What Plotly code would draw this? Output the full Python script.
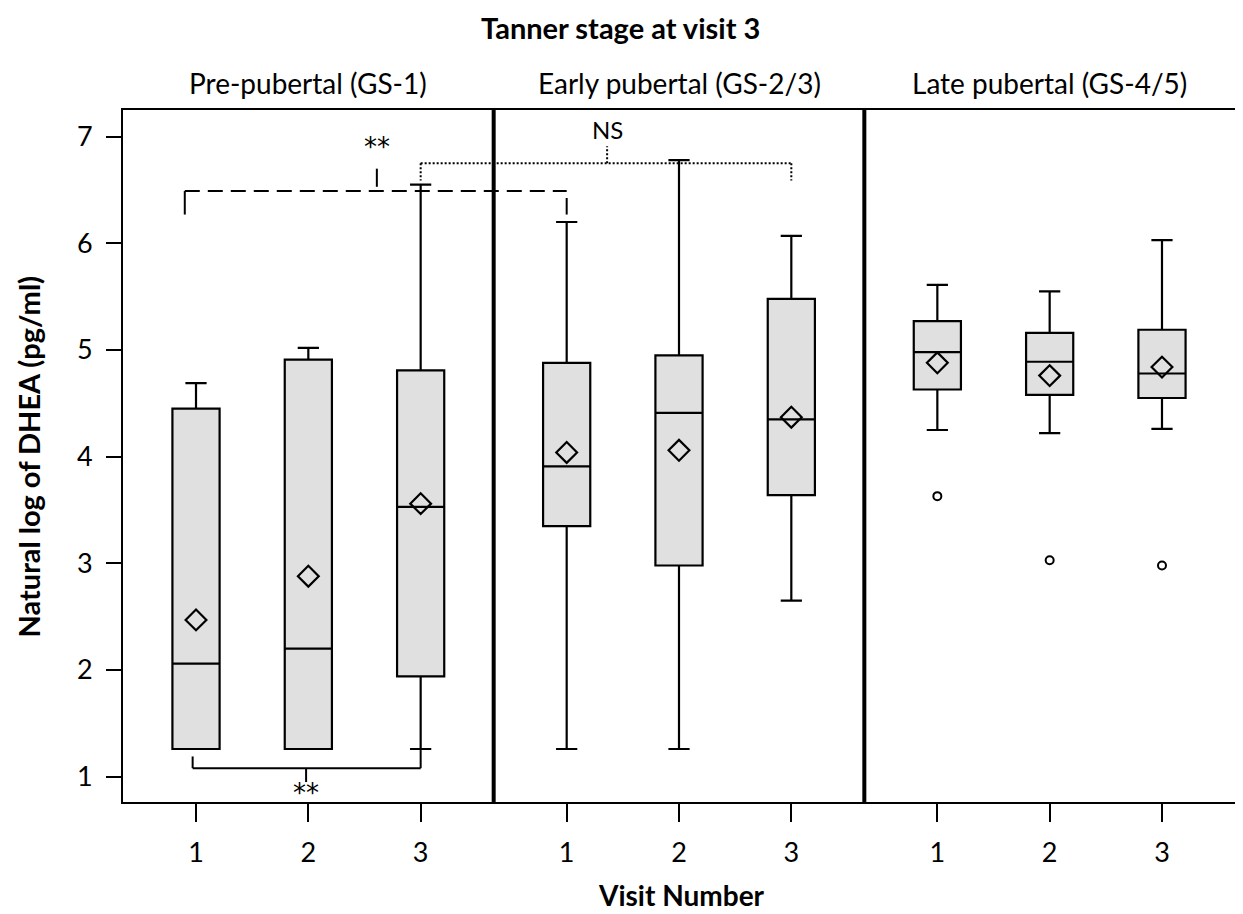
import plotly.graph_objects as go

# ---------------- data ----------------
panels = ["Pre-pubertal (GS-1)", "Early pubertal (GS-2/3)", "Late pubertal (GS-4/5)"]
visits = [1, 2, 3]

# per panel, per visit
q1 = [[1.26, 1.26, 1.94], [3.35, 2.98, 3.64], [4.63, 4.58, 4.55]]
median = [[2.06, 2.20, 3.53], [3.91, 4.41, 4.35], [4.98, 4.89, 4.78]]
q3 = [[4.45, 4.91, 4.81], [4.88, 4.95, 5.48], [5.27, 5.16, 5.19]]
lowerfence = [[1.26, 1.26, 1.26], [1.26, 1.26, 2.65], [4.25, 4.22, 4.26]]
upperfence = [[4.69, 5.02, 6.55], [6.20, 6.78, 6.07], [5.61, 5.55, 6.03]]
means = [[2.47, 2.88, 3.56], [4.04, 4.06, 4.37], [4.88, 4.76, 4.84]]
outliers = [[None, None, None], [None, None, None], [3.63, 3.03, 2.98]]

title_text = "Tanner stage at visit 3"
y_title = "Natural log of DHEA (pg/ml)"
x_title = "Visit Number"

FONT = "Lato"
PANEL_STEP = 3.3
PAD = 0.65


def xpos(p, v):
    return p * PANEL_STEP + v


fig = go.Figure()

for p in range(3):
    xs = [xpos(p, v) for v in visits]
    fig.add_trace(go.Box(
        x=xs, q1=q1[p], median=median[p], q3=q3[p],
        lowerfence=lowerfence[p], upperfence=upperfence[p],
        width=0.42, whiskerwidth=0.45, boxpoints=False,
        fillcolor="#e0e0e0", line=dict(color="black", width=2.2),
        showlegend=False, hoverinfo="skip"))
    fig.add_trace(go.Scatter(
        x=xs, y=means[p], mode="markers", showlegend=False,
        marker=dict(symbol="diamond-open", size=16, color="black",
                    line=dict(width=2.2, color="black"))))
    ox = [x for x, o in zip(xs, outliers[p]) if o is not None]
    oy = [o for o in outliers[p] if o is not None]
    if ox:
        fig.add_trace(go.Scatter(
            x=ox, y=oy, mode="markers", showlegend=False,
            marker=dict(symbol="circle-open", size=8, color="black",
                        line=dict(width=2, color="black"))))


def seg(x0, x1, y0, y1, dash):
    fig.add_trace(go.Scatter(x=[x0, x1], y=[y0, y1], mode="lines", showlegend=False,
                             line=dict(color="black", width=2, dash=dash),
                             hoverinfo="skip", cliponaxis=False))


# ---------------- significance brackets ----------------
# dashed: pre-pubertal visit 1 vs early pubertal visit 1
seg(0.90, xpos(1, 1), 6.49, 6.49, "15px,8px")
seg(0.90, 0.90, 6.49, 6.27, "solid")
seg(xpos(1, 1), xpos(1, 1), 6.425, 6.27, "solid")
seg(2.61, 2.61, 6.70, 6.53, "solid")
# dotted: pre-pubertal visit 3 vs early pubertal visit 3
seg(xpos(0, 3), xpos(1, 3), 6.75, 6.75, "2px,2px")
seg(xpos(0, 3), xpos(0, 3), 6.75, 6.59, "2px,2px")
seg(xpos(1, 3), xpos(1, 3), 6.75, 6.59, "2px,2px")
seg(4.66, 4.66, 6.75, 6.91, "2px,2px")
# solid: pre-pubertal visit 1 vs visit 3
seg(0.97, xpos(0, 3), 1.08, 1.08, "solid")
seg(0.97, 0.97, 1.08, 1.19, "solid")
seg(xpos(0, 3), xpos(0, 3), 1.08, 1.25, "solid")
seg(1.98, 1.98, 1.08, 0.95, "solid")

sig_labels = [("**", 2.61, 6.90), ("NS", 4.66, 7.07), ("**", 1.98, 0.85)]
for lab, lx, ly in sig_labels:
    fnt = dict(family="DejaVu Sans", size=26, color="black") if lab == "**" else \
        dict(family=FONT, size=24, color="black")
    fig.add_annotation(x=lx, y=ly, xref="x", yref="y", text=lab, showarrow=False,
                       font=fnt)

# panel separators
for k in (1, 2):
    sep = xpos(k, 1) - PAD
    fig.add_shape(type="line", xref="x", yref="paper", x0=sep, x1=sep, y0=0, y1=1,
                  line=dict(color="black", width=4))

# panel titles
for p, name in enumerate(panels):
    fig.add_annotation(x=xpos(p, 2), y=1.039, xref="x", yref="paper", text=name,
                       showarrow=False, yanchor="middle",
                       font=dict(family=FONT, size=28, color="black"))

fig.add_annotation(x=0.447, y=1.1185, xref="paper", yref="paper",
                   text="<b>" + title_text + "</b>", showarrow=False, yanchor="middle",
                   font=dict(family=FONT, size=29, color="black"))
fig.add_annotation(x=0.502, y=-0.135, xref="paper", yref="paper",
                   text="<b>" + x_title + "</b>", showarrow=False, yanchor="middle",
                   font=dict(family=FONT, size=28, color="black"))
fig.add_annotation(x=-0.085, y=0.5, xref="paper", yref="paper",
                   text="<b>" + y_title + "</b>", showarrow=False, textangle=-90,
                   xanchor="center", yanchor="middle",
                   font=dict(family=FONT, size=29, color="black"))

tickvals = [xpos(p, v) for p in range(3) for v in visits]
ticktext = [str(v) for p in range(3) for v in visits]

fig.update_layout(
    width=1235, height=906,
    margin=dict(l=115, r=6, t=102, b=112),
    plot_bgcolor="white", paper_bgcolor="white",
    font=dict(family=FONT, color="black"),
    showlegend=False,
    xaxis=dict(range=[1 - PAD, 2 * PANEL_STEP + 3 + PAD], tickvals=tickvals, ticktext=ticktext,
               showgrid=False, zeroline=False, showline=True, mirror=True,
               linecolor="black", linewidth=2, ticks="outside", ticklen=18, tickwidth=2,
               tickcolor="black", ticklabelstandoff=8,
               tickfont=dict(family=FONT, size=27, color="black")),
    yaxis=dict(range=[0.763, 7.25], tickvals=[1, 2, 3, 4, 5, 6, 7],
               showgrid=False, zeroline=False, showline=True, mirror=True,
               linecolor="black", linewidth=2, ticks="outside", ticklen=15, tickwidth=2,
               tickcolor="black", ticklabelstandoff=8,
               tickfont=dict(family=FONT, size=27, color="black")),
)

fig.write_html("out.html")
